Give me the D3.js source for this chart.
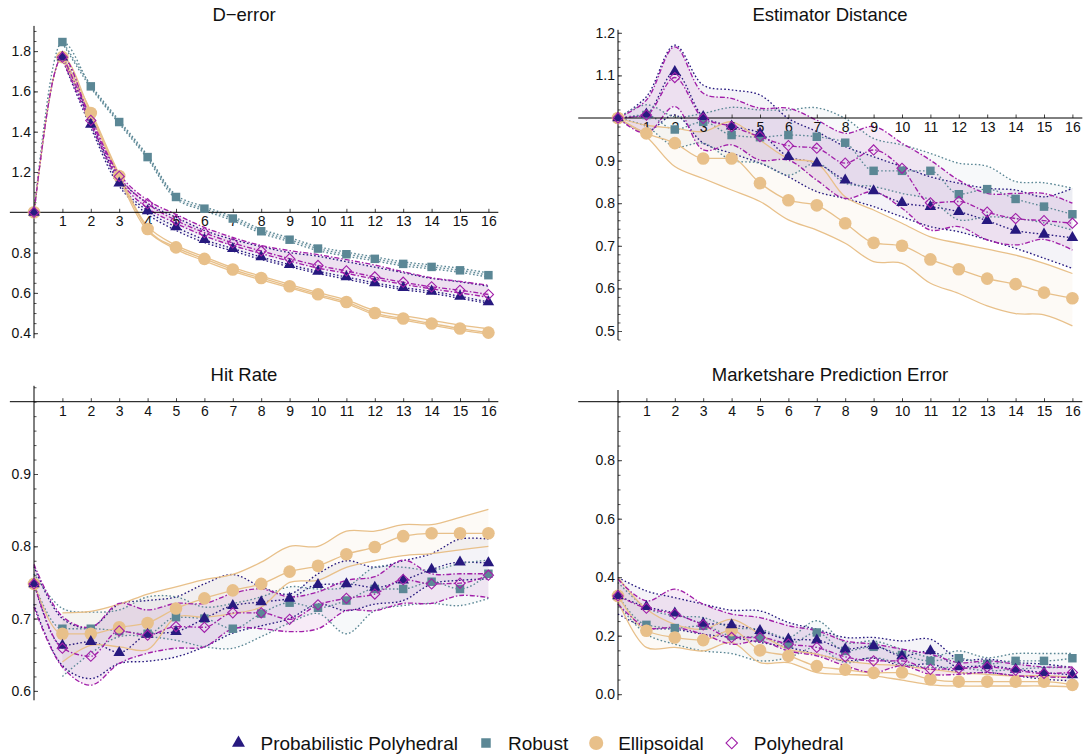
<!DOCTYPE html>
<meta charset="utf-8">
<style>
body { margin: 0; background: #fff; }
text { font-family: "Liberation Sans", Arial, sans-serif; fill: #111; }
.title { font-size: 18.5px; }
.legend text { font-size: 19px; }
</style>
<body>
<script src="https://d3js.org/d3.v7.min.js"></script>
<script>

var steps = d3.range(0, 17);
var seriesKeys = ["pp", "rob", "ell", "pol"];
var seriesNames = ["Probabilistic Polyhedral", "Robust", "Ellipsoidal", "Polyhedral"];

// D-error: mean, lower band, upper band
var dePP     = [1.0,1.77,1.436,1.145,1.007,0.927,0.864,0.82,0.778,0.74,0.707,0.679,0.65,0.626,0.608,0.583,0.555];
var dePPlo   = [null,1.76,1.42,1.13,0.99,0.91,0.85,0.808,0.766,0.73,0.697,0.668,0.64,0.616,0.598,0.573,0.547];
var dePPhi   = [null,1.78,1.45,1.17,1.045,0.975,0.91,0.865,0.83,0.8,0.782,0.755,0.728,0.7,0.672,0.655,0.633];
var deRob    = [1.0,1.845,1.625,1.448,1.274,1.076,1.018,0.969,0.906,0.864,0.82,0.792,0.769,0.744,0.729,0.712,0.688];
var deRoblo  = [null,1.84,1.618,1.44,1.265,1.066,1.008,0.959,0.896,0.854,0.81,0.782,0.759,0.734,0.719,0.702,0.678];
var deRobhi  = [null,1.85,1.632,1.456,1.283,1.086,1.028,0.979,0.916,0.874,0.83,0.802,0.779,0.754,0.739,0.722,0.699];
var deEll    = [1.0,1.77,1.493,1.18,0.917,0.826,0.769,0.716,0.674,0.633,0.593,0.555,0.5,0.473,0.448,0.423,0.403];
var deEllo   = [null,1.76,1.483,1.17,0.907,0.816,0.759,0.707,0.665,0.625,0.585,0.547,0.492,0.465,0.44,0.415,0.395];
var deEllhi  = [null,1.78,1.503,1.19,0.93,0.836,0.779,0.725,0.683,0.642,0.602,0.565,0.512,0.487,0.464,0.44,0.422];
var dePol    = [1.0,1.77,1.456,1.178,1.043,0.96,0.899,0.848,0.808,0.77,0.736,0.709,0.679,0.653,0.63,0.613,0.592];
var dePollo  = [null,1.76,1.44,1.16,1.02,0.945,0.883,0.835,0.795,0.758,0.723,0.697,0.668,0.643,0.62,0.6,0.578];
var dePolhi  = [null,1.78,1.47,1.19,1.06,0.99,0.925,0.875,0.835,0.81,0.79,0.765,0.738,0.705,0.675,0.657,0.638];

// Estimator Distance
var edPP     = [1.0,1.009,1.109,1.003,0.981,0.964,0.909,0.894,0.854,0.829,0.801,0.792,0.78,0.759,0.736,0.727,0.719];
var edPPlo   = [1.0,0.968,1.007,0.941,0.917,0.894,0.862,0.827,0.811,0.792,0.768,0.745,0.733,0.714,0.694,0.671,0.647];
var edPPhi   = [1.0,1.05,1.171,1.077,1.066,1.054,0.999,0.968,0.933,0.909,0.886,0.862,0.847,0.835,0.831,0.815,0.835];
var edRob    = [1.0,1.007,0.973,0.991,0.96,0.955,0.96,0.956,0.942,0.876,0.876,0.876,0.821,0.833,0.81,0.792,0.774];
var edRoblo  = [1.0,0.98,0.933,0.941,0.901,0.894,0.866,0.894,0.847,0.839,0.823,0.808,0.761,0.768,0.764,0.754,0.737];
var edRobhi  = [1.0,1.031,1.003,1.011,1.025,1.019,1.019,1.024,0.999,0.952,0.937,0.917,0.894,0.887,0.851,0.848,0.835];
var edEll    = [1.0,0.964,0.941,0.905,0.905,0.847,0.807,0.795,0.753,0.707,0.7,0.668,0.645,0.623,0.61,0.59,0.577];
var edEllo   = [1.0,0.956,0.886,0.858,0.831,0.804,0.761,0.737,0.706,0.663,0.659,0.612,0.588,0.559,0.541,0.538,0.512];
var edEllhi  = [1.0,0.983,0.976,0.968,0.991,0.948,0.905,0.894,0.815,0.784,0.753,0.721,0.706,0.692,0.678,0.659,0.635];
var edPol    = [1.0,1.007,1.095,0.999,0.98,0.956,0.935,0.929,0.894,0.925,0.882,0.801,0.804,0.779,0.764,0.759,0.753];
var edPollo  = [1.0,0.964,1.027,0.925,0.937,0.901,0.901,0.854,0.811,0.827,0.788,0.737,0.745,0.714,0.702,0.715,0.69];
var edPolhi  = [1.0,1.042,1.167,1.058,1.046,1.023,1.023,0.995,0.964,0.98,0.941,0.901,0.854,0.823,0.823,0.823,0.8];

// Hit Rate
var hrPP     = [0.748,0.663,0.668,0.653,0.678,0.682,0.7,0.718,0.723,0.728,0.747,0.748,0.743,0.753,0.768,0.778,0.777];
var hrPPlo   = [0.72,0.635,0.617,0.638,0.641,0.647,0.661,0.68,0.69,0.7,0.72,0.711,0.72,0.725,0.748,0.753,0.755];
var hrPPhi   = [0.772,0.7,0.688,0.72,0.725,0.73,0.748,0.761,0.744,0.734,0.762,0.78,0.771,0.78,0.79,0.81,0.81];
var hrRob    = [0.748,0.686,0.686,0.683,0.679,0.702,0.7,0.686,0.707,0.722,0.715,0.725,0.741,0.741,0.751,0.741,0.762];
var hrRoblo  = [null,0.62,0.652,0.675,0.675,0.67,0.661,0.659,0.675,0.694,0.707,0.679,0.711,0.718,0.721,0.718,0.728];
var hrRobhi  = [0.762,0.714,0.709,0.712,0.73,0.73,0.716,0.721,0.73,0.744,0.741,0.744,0.771,0.771,0.767,0.776,0.781];
var hrEll    = [0.748,0.679,0.679,0.688,0.694,0.714,0.728,0.739,0.748,0.765,0.773,0.789,0.799,0.814,0.818,0.818,0.818];
var hrEllo   = [null,0.64,0.663,0.661,0.657,0.702,0.702,0.707,0.716,0.75,0.753,0.771,0.78,0.787,0.79,0.795,0.8];
var hrEllhi  = [null,0.708,0.71,0.72,0.734,0.744,0.754,0.761,0.778,0.8,0.8,0.821,0.821,0.83,0.83,0.84,0.851];
var hrPol    = [0.748,0.659,0.648,0.683,0.677,0.689,0.688,0.708,0.708,0.699,0.719,0.728,0.734,0.754,0.748,0.749,0.76];
var hrPollo  = [0.716,0.633,0.608,0.638,0.652,0.659,0.661,0.686,0.686,0.682,0.686,0.711,0.711,0.721,0.721,0.732,0.729];
var hrPolhi  = [0.775,0.703,0.688,0.721,0.712,0.721,0.721,0.735,0.741,0.73,0.737,0.753,0.758,0.781,0.762,0.762,0.762];

// Marketshare Prediction Error
var msPP     = [0.336,0.299,0.277,0.242,0.237,0.217,0.188,0.185,0.154,0.165,0.131,0.148,0.093,0.097,0.085,0.074,0.066];
var msPPlo   = [0.274,0.228,0.222,0.205,0.194,0.177,0.16,0.137,0.114,0.123,0.097,0.103,0.074,0.074,0.063,0.051,0.046];
var msPPhi   = [0.399,0.353,0.33,0.308,0.287,0.285,0.245,0.222,0.194,0.194,0.182,0.188,0.12,0.12,0.108,0.103,0.091];
var msRob    = [0.336,0.237,0.226,0.234,0.199,0.194,0.171,0.211,0.148,0.162,0.134,0.114,0.123,0.103,0.114,0.114,0.123];
var msRoblo  = [0.308,0.205,0.171,0.148,0.139,0.114,0.125,0.16,0.108,0.125,0.103,0.091,0.091,0.08,0.085,0.091,0.091];
var msRobhi  = [0.382,0.296,0.268,0.262,0.228,0.222,0.194,0.251,0.177,0.182,0.154,0.128,0.148,0.125,0.139,0.139,0.139];
var msEll    = [0.336,0.217,0.194,0.185,0.219,0.15,0.131,0.096,0.084,0.073,0.074,0.051,0.043,0.043,0.043,0.043,0.032];
var msEllo   = [0.319,0.16,0.16,0.148,0.177,0.108,0.108,0.074,0.068,0.063,0.048,0.032,0.028,0.028,0.028,0.028,0.025];
var msEllhi  = [0.399,0.291,0.239,0.222,0.256,0.205,0.154,0.137,0.114,0.103,0.097,0.085,0.074,0.068,0.063,0.063,0.057];
var msPol    = [0.336,0.294,0.274,0.237,0.194,0.194,0.171,0.16,0.128,0.114,0.114,0.085,0.088,0.093,0.082,0.071,0.074];
var msPollo  = [0.308,0.228,0.228,0.205,0.171,0.182,0.148,0.131,0.097,0.074,0.097,0.068,0.068,0.074,0.063,0.059,0.057];
var msPolhi  = [0.393,0.319,0.359,0.308,0.274,0.262,0.234,0.217,0.182,0.171,0.154,0.137,0.108,0.114,0.103,0.093,0.093];

// tick labels per panel
var deTicks = [0.4,0.6,0.8,1.2,1.4,1.6,1.8];
var edTicks = [0.5,0.6,0.7,0.8,0.9,1.1,1.2];
var hrTicks = [0.6,0.7,0.8,0.9];
var msTicks = [0.0,0.2,0.4,0.6,0.8];
var xTicks = d3.range(1, 17);

var style = {
	pp:  {colour: "#27197f", dash: "1.6,2.2", fillOp: 0.05, marker: "triangle"},
	rob: {colour: "#5b8795", dash: "1.6,2.2", fillOp: 0.05, marker: "square"},
	ell: {colour: "#e8c08a", dash: null,      fillOp: 0.08, marker: "circle"},
	pol: {colour: "#a11fa9", dash: "5,2,1.5,2", fillOp: 0.09, marker: "diamond"}
};

var tickFont = 14;
var width = 1086, height = 755;

var svg = d3.select("body").append("svg")
	.attr("width", width)
	.attr("height", height);

var panels = [
	{title: "D\u2212error", x0: 34, x16: 488.4, yA: [0.4, 333.2], yB: [1.8, 51.1], yExt: [0.375, 1.925],
	 xExt: [-0.85, 16.35], ticks: deTicks, minor: 0.05, tx: 244, ty: 21,
	 s: {pp: [dePP, dePPlo, dePPhi], rob: [deRob, deRoblo, deRobhi], ell: [deEll, deEllo, deEllhi], pol: [dePol, dePollo, dePolhi]}},
	{title: "Estimator Distance", x0: 618, x16: 1072.4, yA: [0.5, 331], yB: [1.2, 32.8], yExt: [0.479, 1.207],
	 xExt: [-1.4, 16.35], ticks: edTicks, minor: 0.02, tx: 830, ty: 21,
	 s: {pp: [edPP, edPPlo, edPPhi], rob: [edRob, edRoblo, edRobhi], ell: [edEll, edEllo, edEllhi], pol: [edPol, edPollo, edPolhi]}},
	{title: "Hit Rate", x0: 34, x16: 488.4, yA: [0.6, 690.9], yB: [1.0, 401.7], yExt: [0.587, 1.022],
	 xExt: [-0.85, 16.35], ticks: hrTicks, minor: 0.02, tx: 244, ty: 381,
	 s: {pp: [hrPP, hrPPlo, hrPPhi], rob: [hrRob, hrRoblo, hrRobhi], ell: [hrEll, hrEllo, hrEllhi], pol: [hrPol, hrPollo, hrPolhi]}},
	{title: "Marketshare Prediction Error", x0: 618, x16: 1072.4, yA: [0.0, 694.2], yB: [1.0, 401.7], yExt: [-0.02, 1.04],
	 xExt: [-1.4, 16.35], ticks: msTicks, minor: 0.05, tx: 830, ty: 381,
	 s: {pp: [msPP, msPPlo, msPPhi], rob: [msRob, msRoblo, msRobhi], ell: [msEll, msEllo, msEllhi], pol: [msPol, msPollo, msPolhi]}}
];

function markerPath(kind, big) {
	var k = big ? 1.12 : 1;
	if (kind == "triangle") return d3.symbol(d3.symbolTriangle, 58 * k * k)();
	if (kind == "square") return d3.symbol(d3.symbolSquare, 72 * k * k)();
	if (kind == "circle") return d3.symbol(d3.symbolCircle, 125 * k * k)();
	return d3.symbol(d3.symbolSquare, 52 * k * k)();
}

function drawMarker(g, kind, colour, px, py, big) {
	var m = g.append("path")
		.attr("d", markerPath(kind, big))
		.attr("transform", "translate(" + px + "," + py + ")" + (kind == "diamond" ? " rotate(45)" : ""));
	if (kind == "diamond") {
		m.attr("fill", "#fff").attr("fill-opacity", 0.01).attr("stroke", colour).attr("stroke-width", 1.1);
	} else {
		m.attr("fill", colour);
	}
}

panels.forEach(function(p) {
	var x = d3.scaleLinear().domain([0, 16]).range([p.x0, p.x16]);
	var y = d3.scaleLinear().domain([p.yA[0], p.yB[0]]).range([p.yA[1], p.yB[1]]);
	var g = svg.append("g");

	// band fills
	seriesKeys.forEach(function(k) {
		var d = p.s[k];
		var area = d3.area()
			.defined(function(i) { return d[1][i] != null && d[2][i] != null; })
			.x(function(i) { return x(i); })
			.y0(function(i) { return y(d[1][i]); })
			.y1(function(i) { return y(d[2][i]); })
			.curve(d3.curveCatmullRom);
		g.append("path")
			.attr("d", area(steps))
			.attr("fill", style[k].colour)
			.attr("fill-opacity", style[k].fillOp);
	});

	// band edges and mean lines
	seriesKeys.forEach(function(k) {
		var d = p.s[k];
		[1, 2, 0].forEach(function(j) {
			var line = d3.line()
				.defined(function(i) { return d[j][i] != null; })
				.x(function(i) { return x(i); })
				.y(function(i) { return y(d[j][i]); })
				.curve(j == 0 ? d3.curveMonotoneX : d3.curveCatmullRom);
			g.append("path")
				.attr("d", line(steps))
				.attr("fill", "none")
				.attr("stroke", style[k].colour)
				.attr("stroke-width", k == "ell" ? 1.3 : 1.35)
				.attr("stroke-dasharray", style[k].dash);
		});
	});

	// axes
	var yAxis = d3.axisLeft(y).tickValues(p.ticks).tickSizeInner(-4).tickSizeOuter(0).tickPadding(3)
		.tickFormat(d3.format(".1f"));
	var ya = g.append("g").attr("transform", "translate(" + x(0) + ",0)").call(yAxis);
	ya.select(".domain").remove();
	ya.selectAll("text").attr("font-size", tickFont).attr("font-family", "Liberation Sans, Arial, sans-serif").attr("fill", "#111");
	ya.selectAll("line").attr("stroke", "#444");

	var minorVals = d3.range(Math.ceil(p.yExt[0] / p.minor) * p.minor, p.yExt[1], p.minor);
	var yMinor = d3.axisLeft(y).tickValues(minorVals).tickSizeInner(-2.5).tickSizeOuter(0).tickFormat("");
	var ym = g.append("g").attr("transform", "translate(" + x(0) + ",0)").call(yMinor);
	ym.select(".domain").remove();
	ym.selectAll("line").attr("stroke", "#555");

	g.append("line")
		.attr("x1", x(0)).attr("x2", x(0))
		.attr("y1", y(p.yExt[0])).attr("y2", y(p.yExt[1]))
		.attr("stroke", "#000").attr("stroke-width", 1);

	var xAxis = d3.axisBottom(x).tickValues(xTicks).tickSizeInner(-3.5).tickSizeOuter(0).tickPadding(4);
	var xa = g.append("g").attr("transform", "translate(0," + y(1.0) + ")").call(xAxis);
	xa.select(".domain").remove();
	xa.selectAll("text").attr("font-size", tickFont).attr("font-family", "Liberation Sans, Arial, sans-serif").attr("fill", "#111");
	xa.selectAll("line").attr("stroke", "#444");

	g.append("line")
		.attr("x1", x(p.xExt[0])).attr("x2", x(p.xExt[1]))
		.attr("y1", y(1.0)).attr("y2", y(1.0))
		.attr("stroke", "#000").attr("stroke-width", 1);

	// markers
	["rob", "ell", "pp", "pol"].forEach(function(k) {
		var d = p.s[k];
		steps.forEach(function(i) {
			drawMarker(g, style[k].marker, style[k].colour, x(i), y(d[0][i]), false);
		});
	});

	g.append("text")
		.attr("class", "title")
		.attr("x", p.tx)
		.attr("y", p.ty)
		.attr("text-anchor", "middle")
		.text(p.title);
});

// legend
var legend = svg.append("g").attr("class", "legend");
var legendY = 743;
var cursor = 0;
seriesKeys.forEach(function(k, i) {
	var item = legend.append("g").attr("transform", "translate(" + cursor + ",0)");
	drawMarker(item, style[k].marker, style[k].colour, 0, legendY, true);
	var t = item.append("text")
		.attr("x", 22)
		.attr("y", legendY + 6.5)
		.text(seriesNames[i]);
	cursor += 22 + t.node().getComputedTextLength() + 28;
});
var legendWidth = cursor - 28;
legend.attr("transform", "translate(" + (541 - legendWidth / 2) + ",0)");

</script>
</body>
</html>
